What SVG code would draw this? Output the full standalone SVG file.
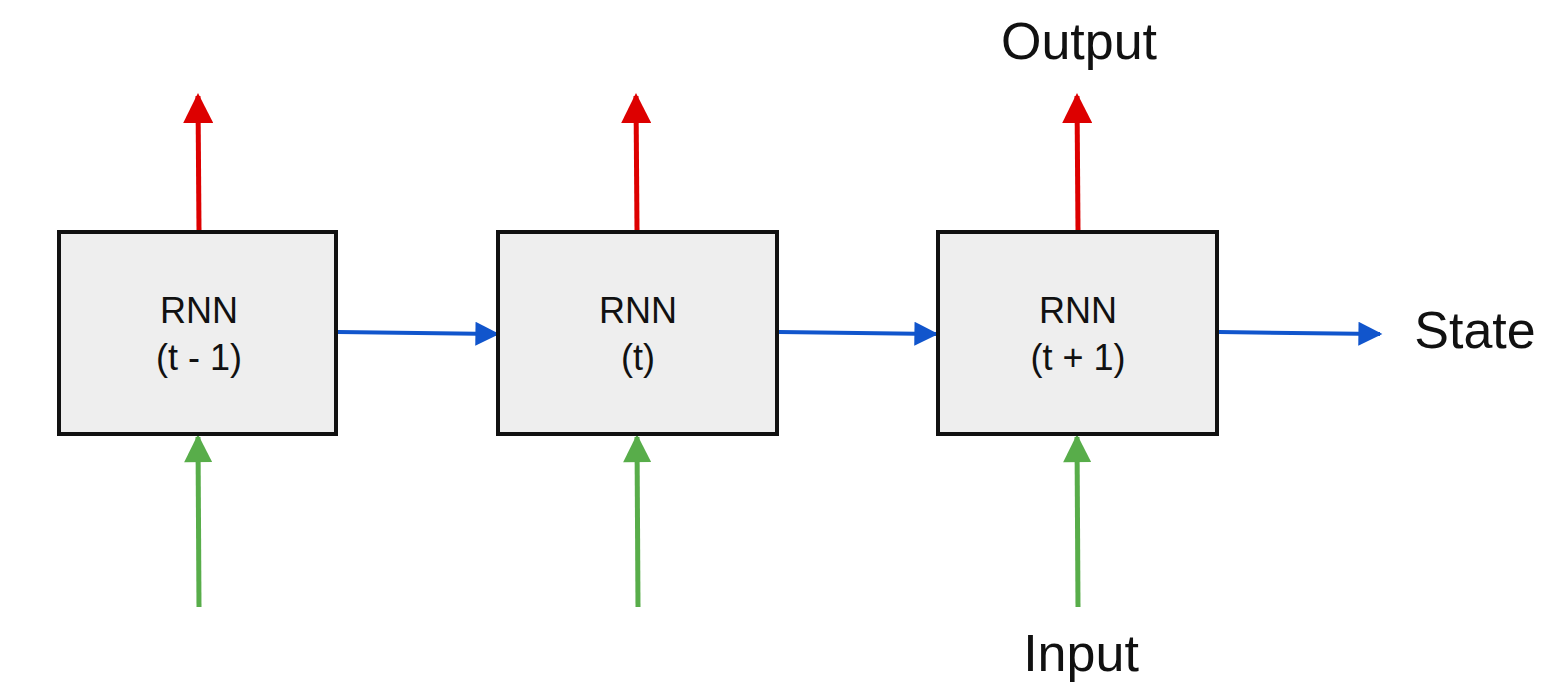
<svg xmlns="http://www.w3.org/2000/svg" width="1553" height="688" viewBox="0 0 1553 688">
  <style>
    .box { fill: #eeeeee; stroke: #111111; stroke-width: 4; }
    .lbl { font-family: "Liberation Sans", Arial, sans-serif; fill: #111111; text-anchor: middle; }
    .in { font-size: 36px; }
    .out { font-size: 52px; }
    .out-line { stroke: #dd0000; stroke-width: 5; fill: none; }
    .in-line { stroke: #58ad4a; stroke-width: 5; fill: none; }
    .st-line { stroke: #1155cc; stroke-width: 4; fill: none; }
  </style>
  <defs>
    <marker id="headRed" viewBox="0 0 10 10" refX="9" refY="5" markerUnits="userSpaceOnUse" markerWidth="38" markerHeight="30" orient="auto">
      <path d="M0,0 L10,5 L0,10 z" fill="#dd0000"/>
    </marker>
    <marker id="headGreen" viewBox="0 0 10 10" refX="9" refY="5" markerUnits="userSpaceOnUse" markerWidth="36" markerHeight="28" orient="auto">
      <path d="M0,0 L10,5 L0,10 z" fill="#58ad4a"/>
    </marker>
    <marker id="headBlue" viewBox="0 0 10 10" refX="9" refY="5" markerUnits="userSpaceOnUse" markerWidth="38" markerHeight="24" orient="auto">
      <path d="M0,0 L10,5 L0,10 z" fill="#1155cc"/>
    </marker>
  </defs>
  <rect width="1553" height="688" fill="#ffffff"/>

  <g id="connectors">
    <!-- outputs -->
    <line class="out-line" x1="199" y1="231" x2="198" y2="96" marker-end="url(#headRed)"/>
    <line class="out-line" x1="637" y1="231" x2="636" y2="96" marker-end="url(#headRed)"/>
    <line class="out-line" x1="1078" y1="231" x2="1077" y2="96" marker-end="url(#headRed)"/>
    <!-- inputs -->
    <line class="in-line" x1="199" y1="607" x2="198" y2="437" marker-end="url(#headGreen)"/>
    <line class="in-line" x1="638" y1="607" x2="637" y2="437" marker-end="url(#headGreen)"/>
    <line class="in-line" x1="1078" y1="607" x2="1077" y2="437" marker-end="url(#headGreen)"/>
    <!-- state -->
    <line class="st-line" x1="338" y1="332" x2="497" y2="334" marker-end="url(#headBlue)"/>
    <line class="st-line" x1="779" y1="332" x2="936" y2="334" marker-end="url(#headBlue)"/>
    <line class="st-line" x1="1219" y1="332" x2="1380" y2="334" marker-end="url(#headBlue)"/>
  </g>

  <g id="rnn-t-minus-1">
    <rect class="box" x="59" y="232" width="277" height="202"/>
    <text class="lbl in" x="199" y="323">RNN</text>
    <text class="lbl in" x="199" y="370">(t - 1)</text>
  </g>
  <g id="rnn-t">
    <rect class="box" x="498" y="232" width="279" height="202"/>
    <text class="lbl in" x="638" y="323">RNN</text>
    <text class="lbl in" x="638" y="370">(t)</text>
  </g>
  <g id="rnn-t-plus-1">
    <rect class="box" x="938" y="232" width="279" height="202"/>
    <text class="lbl in" x="1078" y="323">RNN</text>
    <text class="lbl in" x="1078" y="370">(t + 1)</text>
  </g>

  <g id="label-output">
    <text class="lbl out" x="1079" y="59">Output</text>
  </g>
  <g id="label-state">
    <text class="lbl out" x="1475" y="348">State</text>
  </g>
  <g id="label-input">
    <text class="lbl out" x="1081" y="671">Input</text>
  </g>
</svg>
